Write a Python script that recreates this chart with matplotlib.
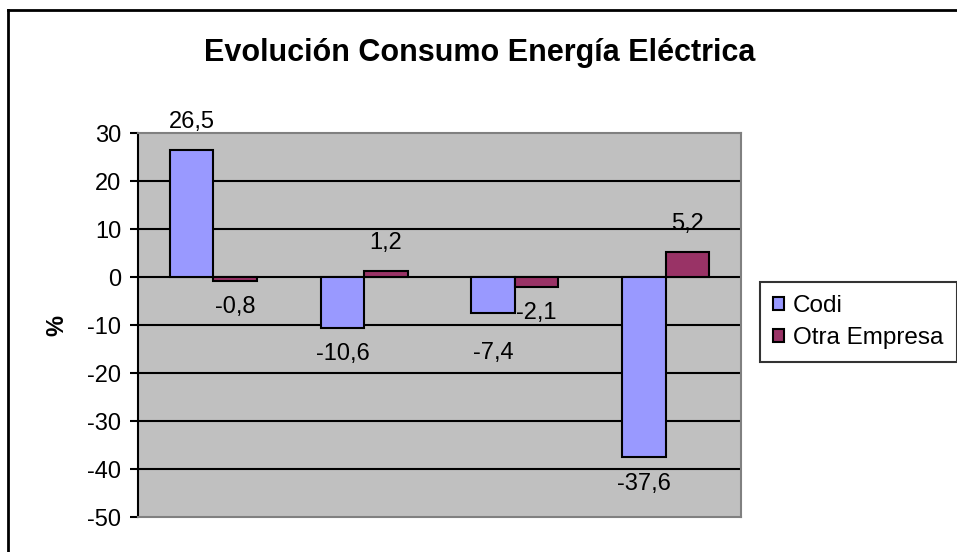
import matplotlib.pyplot as plt
import numpy as np
from matplotlib.lines import Line2D

# data
categories = ['1', '2', '3', '4']
codi = [26.5, -10.6, -7.4, -37.6]
otra = [-0.8, 1.2, -2.1, 5.2]
codi_labels = ['26,5', '-10,6', '-7,4', '-37,6']
otra_labels = ['-0,8', '1,2', '-2,1', '5,2']
series_names = ['Codi', 'Otra Empresa']
yticks = [30, 20, 10, 0, -10, -20, -30, -40, -50]

plt.rcParams['font.family'] = ['Liberation Sans', 'DejaVu Sans']

W, H = 957, 552
fig = plt.figure(figsize=(W / 100, H / 100), dpi=100)
fig.patch.set_facecolor('white')

# outer chart frame (only left and top edges visible)
fig.add_artist(Line2D([8 / W, 8 / W], [0, 1 - 10 / H], color='black', lw=2))
fig.add_artist(Line2D([8 / W, 1], [1 - 10 / H, 1 - 10 / H], color='black', lw=2))

ax = fig.add_axes([138 / W, 1 - 517 / H, (741 - 138) / W, (517 - 133) / H])
ax.set_facecolor('#C0C0C0')

x = np.arange(len(categories)) + 0.5
bw = 0.288
b1 = ax.bar(x - bw / 2, codi, bw, color='#9999FF', edgecolor='black', linewidth=1.5, label=series_names[0], zorder=3)
b2 = ax.bar(x + bw / 2, otra, bw, color='#993366', edgecolor='black', linewidth=1.5, label=series_names[1], zorder=3)

for bars, vals, labs in [(b1, codi, codi_labels), (b2, otra, otra_labels)]:
    for bar, v, lab in zip(bars, vals, labs):
        cx = bar.get_x() + bar.get_width() / 2
        off = 20 if v >= 0 else -19
        if lab == '-7,4':
            off = -29
        ax.annotate(lab, (cx, v), xytext=(0, off), textcoords='offset points',
                    ha='center', va='center', fontsize=17, zorder=5)

ax.set_xlim(0, len(categories))
ax.set_ylim(-50, 30)
ax.set_yticks(yticks)
ax.set_yticklabels([str(t) for t in yticks], fontsize=17)
ax.set_xticks([])
for t in yticks[1:-1]:
    ax.axhline(t, color='black', lw=1.5, zorder=1)

ax.tick_params(axis='y', direction='out', length=6, width=1.5, pad=6)
ax.spines['left'].set_color('black')
ax.spines['left'].set_linewidth(1.5)
for s in ['top', 'right', 'bottom']:
    ax.spines[s].set_color('#808080')
    ax.spines[s].set_linewidth(1.5)

ax.set_ylabel('%', fontsize=17, fontweight='bold', labelpad=14)

fig.text(480 / W, 1 - 53 / H, 'Evolución Consumo Energía Eléctrica',
         ha='center', va='center', fontsize=22, fontweight='bold')

leg = fig.legend(loc='upper left', bbox_to_anchor=(760 / W, 1 - 282 / H),
                 fontsize=17.5, frameon=True, fancybox=False, edgecolor='black',
                 handlelength=0.45, handleheight=0.45, handletextpad=0.35,
                 borderpad=0.55, labelspacing=0.4, borderaxespad=0)
leg.get_frame().set_linewidth(1.5)

fig.savefig('out.png', dpi=100, facecolor='white')
